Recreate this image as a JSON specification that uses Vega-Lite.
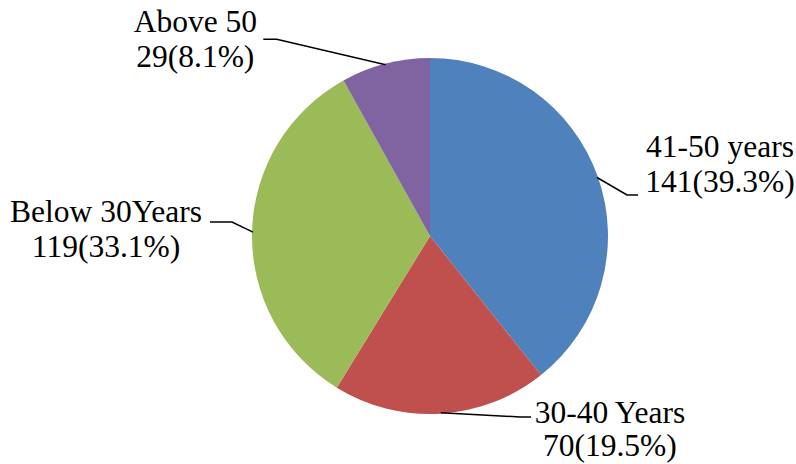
{
  "$schema": "https://vega.github.io/schema/vega-lite/v6.json",
  "width": 732,
  "height": 456,
  "autosize": {"type": "none"},
  "padding": {"left": 64, "top": 8, "right": 0, "bottom": 0},
  "background": "white",
  "view": {"stroke": null},
  "data": {
    "values": [
      {"category": "41-50 years", "value": 141, "label": "41-50 years\n141(39.3%)"},
      {"category": "30-40 Years", "value": 70, "label": "30-40 Years\n70(19.5%)"},
      {"category": "Below 30Years", "value": 119, "label": "Below 30Years\n119(33.1%)"},
      {"category": "Above 50", "value": 29, "label": "Above 50\n29(8.1%)"}
    ]
  },
  "transform": [{"window": [{"op": "row_number", "as": "idx"}]}],
  "layer": [
    {
      "mark": {"type": "arc", "outerRadius": 178},
      "encoding": {
        "theta": {"field": "value", "type": "quantitative", "stack": true},
        "order": {"field": "idx", "type": "quantitative"},
        "color": {
          "field": "category",
          "type": "nominal",
          "scale": {
            "domain": ["41-50 years", "30-40 Years", "Below 30Years", "Above 50"],
            "range": ["#4F81BD", "#C0504D", "#9BBB59", "#8064A2"]
          },
          "legend": null
        }
      }
    },
    {
      "transform": [{"aggregate": [{"op": "count", "as": "n"}]}],
      "mark": {
        "type": "point",
        "shape": "M167,-58.5L197,-41L208,-41M10.8,176.7L90,181L101,181M-177,-3.9L-198,-14L-220,-14M-44.4,-171.3L-153.3,-196.7L-166.7,-196.7",
        "size": 4,
        "filled": false,
        "stroke": "black",
        "strokeWidth": 1.5,
        "opacity": 1
      },
      "encoding": {}
    },
    {
      "mark": {"type": "text", "radius": 178, "dx": 122, "dy": -20.5, "align": "center", "baseline": "alphabetic", "font": "Liberation Serif", "fontSize": 31.5, "lineHeight": 35, "lineBreak": "\n", "color": "black"},
      "encoding": {
        "theta": {"field": "value", "type": "quantitative", "stack": true},
        "order": {"field": "idx", "type": "quantitative"},
        "text": {"condition": {"test": "datum.category === '41-50 years'", "field": "label"}, "value": ""}
      }
    },
    {
      "mark": {"type": "text", "radius": 178, "dx": 169, "dy": 9, "align": "center", "baseline": "alphabetic", "font": "Liberation Serif", "fontSize": 31.5, "lineHeight": 33, "lineBreak": "\n", "color": "black"},
      "encoding": {
        "theta": {"field": "value", "type": "quantitative", "stack": true},
        "order": {"field": "idx", "type": "quantitative"},
        "text": {"condition": {"test": "datum.category === '30-40 Years'", "field": "label"}, "value": ""}
      }
    },
    {
      "mark": {"type": "text", "radius": 178, "dx": -146, "dy": -10, "align": "center", "baseline": "alphabetic", "font": "Liberation Serif", "fontSize": 31.5, "lineHeight": 35, "lineBreak": "\n", "color": "black"},
      "encoding": {
        "theta": {"field": "value", "type": "quantitative", "stack": true},
        "order": {"field": "idx", "type": "quantitative"},
        "text": {"condition": {"test": "datum.category === 'Below 30Years'", "field": "label"}, "value": ""}
      }
    },
    {
      "mark": {"type": "text", "radius": 178, "dx": -190, "dy": -32, "align": "center", "baseline": "alphabetic", "font": "Liberation Serif", "fontSize": 31.5, "lineHeight": 35, "lineBreak": "\n", "color": "black"},
      "encoding": {
        "theta": {"field": "value", "type": "quantitative", "stack": true},
        "order": {"field": "idx", "type": "quantitative"},
        "text": {"condition": {"test": "datum.category === 'Above 50'", "field": "label"}, "value": ""}
      }
    }
  ]
}
